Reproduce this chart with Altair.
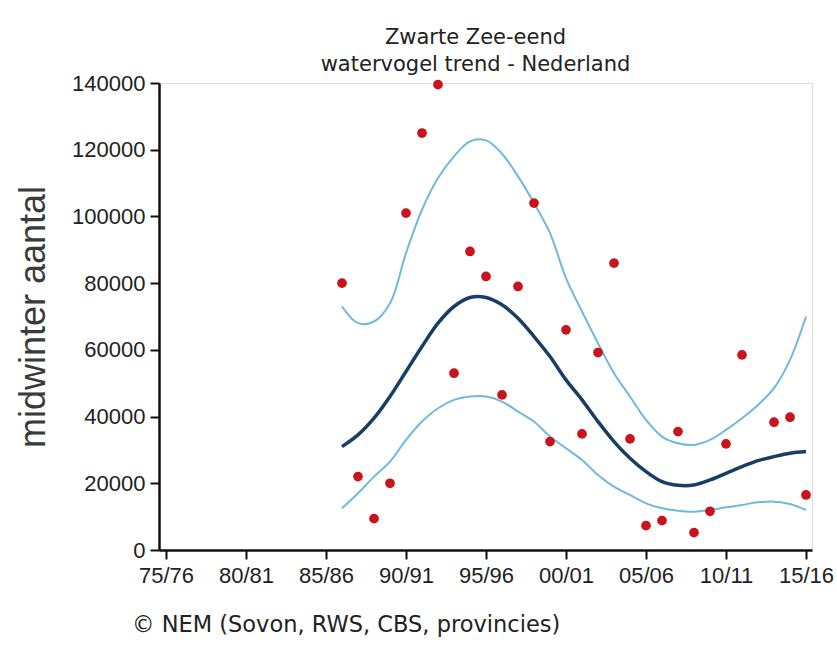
import altair as alt
import pandas as pd

# observed midwinter counts (season start year)
obs_years = [1986, 1987, 1988, 1989, 1990, 1991, 1992, 1993, 1994, 1995, 1996, 1997,
             1998, 1999, 2000, 2001, 2002, 2003, 2004, 2005, 2006, 2007, 2008, 2009,
             2010, 2011, 2013, 2014, 2015]
obs_counts = [80000, 22000, 9400, 20000, 101000, 125000, 139500, 53000, 89500, 82000,
              46500, 79000, 104000, 32500, 66000, 34800, 59200, 86000, 33300, 7300,
              8800, 35500, 5200, 11600, 31800, 58500, 38300, 39800, 16500]

# trend with confidence band
trend_years = list(range(1986, 2016))
trend = [31000, 34500, 39500, 46000, 53500, 61000, 68000, 73000, 75700, 75700,
         73500, 69500, 64000, 58000, 51000, 45000, 38500, 32500, 27500, 23500,
         20500, 19400, 19500, 21000, 23000, 25000, 26800, 28000, 29000, 29500]
upper = [73000, 68000, 68500, 74000, 89000, 102000, 111500, 118000, 122500, 122800,
         118800, 112000, 104000, 95000, 81500, 71500, 62000, 53000, 46000, 39000,
         34000, 32000, 31500, 33000, 36000, 39500, 43500, 48500, 57000, 70000]
lower = [12500, 17000, 22000, 26500, 33000, 38500, 42500, 45000, 46000, 46000,
         44500, 41500, 38500, 34000, 30500, 27000, 22500, 19000, 16500, 14000,
         12500, 11800, 11500, 12000, 12800, 13500, 14300, 14500, 13800, 12000]

x_ticks = list(range(1975, 2016, 5))
y_ticks = list(range(0, 140001, 20000))

obs = pd.DataFrame({"jaar": obs_years, "aantal": obs_counts})
tr = pd.DataFrame({"jaar": trend_years, "trend": trend, "boven": upper, "onder": lower})

xscale = alt.Scale(domain=[1974.5625, 2015.375], nice=False, zero=False)
yscale = alt.Scale(domain=[0, 140000], nice=False)

label_expr = ("slice('0' + (datum.value % 100), -2) + '/' + "
              "slice('0' + ((datum.value + 1) % 100), -2)")

xaxis = alt.Axis(values=x_ticks, labelExpr=label_expr, title=None, grid=False,
                 domainColor="#111", domainWidth=2.5, tickColor="#111", tickWidth=2,
                 tickSize=9, labelFont="Liberation Sans", labelFontSize=22,
                 labelColor="#222", labelPadding=6)
yaxis = alt.Axis(values=y_ticks, format="d", title="midwinter aantal", grid=False,
                 domainColor="#111", domainWidth=2.5, tickColor="#111", tickWidth=2,
                 tickSize=9, labelFont="Liberation Sans", labelFontSize=22,
                 labelColor="#222", labelPadding=5, titleFont="Liberation Sans",
                 titleFontSize=36, titleFontWeight="normal", titleColor="#3a3a3a",
                 titleX=-107, titleY=233.5, titleAngle=-90, titleAlign="center",
                 titleBaseline="bottom")

band_up = alt.Chart(tr).mark_line(color="#6fb9dc", strokeWidth=2, interpolate="catmull-rom").encode(
    x=alt.X("jaar:Q", scale=xscale, axis=xaxis), y=alt.Y("boven:Q", scale=yscale, axis=yaxis))
band_lo = alt.Chart(tr).mark_line(color="#6fb9dc", strokeWidth=2, interpolate="catmull-rom").encode(
    x=alt.X("jaar:Q", scale=xscale), y=alt.Y("onder:Q", scale=yscale))
trend_line = alt.Chart(tr).mark_line(color="#173f66", strokeWidth=3.5, interpolate="catmull-rom").encode(
    x=alt.X("jaar:Q", scale=xscale), y=alt.Y("trend:Q", scale=yscale))
points = alt.Chart(obs).mark_circle(color="#c8141c", size=95, opacity=1).encode(
    x=alt.X("jaar:Q", scale=xscale), y=alt.Y("aantal:Q", scale=yscale))

footer = alt.Chart(pd.DataFrame({"t": ["© NEM (Sovon, RWS, CBS, provincies)"]})).mark_text(
    align="left", baseline="middle", font="DejaVu Sans", fontSize=22.5, color="#222"
).encode(text="t:N", x=alt.value(-27), y=alt.value(542))

chart = alt.layer(band_up, band_lo, trend_line, points, footer).properties(
    width=653, height=467,
    title=alt.TitleParams(["Zwarte Zee-eend", "watervogel trend - Nederland"],
                          font="DejaVu Sans", fontSize=21, fontWeight="normal",
                          color="#222", lineHeight=27, offset=-3, anchor="middle", dx=-10),
    padding={"left": 159, "top": 83, "right": 25, "bottom": 96},
    autosize=alt.AutoSizeParams(type="none"),
).configure_view(stroke="#444", strokeWidth=2).configure(background="white")

chart.save("out.html", embed_options={"renderer": "svg", "actions": False})
